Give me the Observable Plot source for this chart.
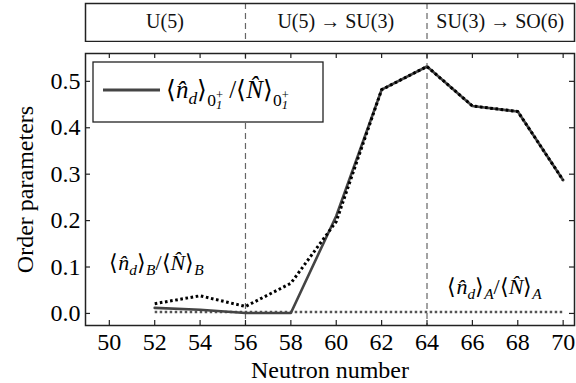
<!DOCTYPE html>
<html><head><meta charset="utf-8">
<script src="https://cdn.jsdelivr.net/npm/d3@7"></script>
<script src="https://cdn.jsdelivr.net/npm/@observablehq/plot@0.6"></script>
<style>
html,body{margin:0;padding:0;background:#fff;}
#chart{position:relative;width:576px;height:383px;}
#chart svg{display:block;}
.region{position:absolute;top:9px;width:200px;text-align:center;font-family:'Liberation Serif',serif;font-size:20px;line-height:24px;color:#111;white-space:nowrap;}
</style></head><body><div id="chart"></div>
<script>
// ---- data ----
const neutrons = [52, 54, 56, 58, 60, 62, 64, 66, 68, 70];
const ratioGround = [0.012, 0.008, 0.001, 0.001, 0.21, 0.482, 0.532, 0.447, 0.435, 0.287];
const ratioB = [0.021, 0.038, 0.015, 0.065, 0.198, 0.482, 0.532, 0.447, 0.435, 0.287];
const ratioA = [0.003, 0.003, 0.003, 0.003, 0.003, 0.003, 0.003, 0.003, 0.003, 0.003];
const xTicks = [50, 52, 54, 56, 58, 60, 62, 64, 66, 68, 70];
const yTicks = [0, 0.1, 0.2, 0.3, 0.4, 0.5];
const yTickLabels = ["0.0", "0.1", "0.2", "0.3", "0.4", "0.5"];
const boundaries = [56, 64];
const regionLabels = ["U(5)", "U(5) \u2192 SU(3)", "SU(3) \u2192 SO(6)"];
const annotationKeys = ["B", "A"];
const annotationX = [50, 64.9];
const annotationY = [0.108, 0.056];
const legendKey = "G";
const xLabel = "Neutron number";
const yLabel = "Order parameters";

// ---- rich math text segments ----
const HAT = "\u0302";
const segsFor = {
  B: [{t:"\u27E8"},{t:"n"+HAT,i:1},{t:"d",i:1,s:0.7,sh:0.22},{t:"\u27E9"},{t:"B",i:1,s:0.7,sh:0.22},{t:"/\u27E8"},{t:"N"+HAT,i:1},{t:"\u27E9"},{t:"B",i:1,s:0.7,sh:0.22}],
  A: [{t:"\u27E8"},{t:"n"+HAT,i:1},{t:"d",i:1,s:0.7,sh:0.22},{t:"\u27E9"},{t:"A",i:1,s:0.7,sh:0.22},{t:"/\u27E8"},{t:"N"+HAT,i:1},{t:"\u27E9"},{t:"A",i:1,s:0.7,sh:0.22}],
  G: [{t:"\u27E8"},{t:"n"+HAT,i:1},{t:"d",i:1,s:0.7,sh:0.22},{t:"\u27E9"},{t:"0",s:0.7,sh:0.32},{t:"1",i:1,s:0.5,sh:0.45},{t:"+",s:0.5,sh:0.05,dx:-0.25},
      {t:" /\u27E8"},{t:"N"+HAT,i:1},{t:"\u27E9"},{t:"0",s:0.7,sh:0.32},{t:"1",i:1,s:0.5,sh:0.45},{t:"+",s:0.5,sh:0.05,dx:-0.25}]
};
const FONT = "Liberation Serif";
function richText(el, segs, base) {
  while (el.firstChild) el.removeChild(el.firstChild);
  let cur = 0;
  for (const s of segs) {
    const ts = document.createElementNS("http://www.w3.org/2000/svg", "tspan");
    const shift = (s.sh || 0) * base;
    ts.setAttribute("dy", (shift - cur).toFixed(2));
    cur = shift;
    if (s.dx) ts.setAttribute("dx", (s.dx * base).toFixed(2));
    if (s.i) ts.setAttribute("font-style", "italic");
    ts.setAttribute("font-size", ((s.s || 1) * base).toFixed(1));
    ts.textContent = s.t;
    el.appendChild(ts);
  }
}

// ---- layout ----
const W = 576;
const mL = 85, mR = 2;
const xDomain = [48.95, 70.5];
const yDomain = [-0.026, 0.56];
const headerH = 42;
const mainH = 383 - headerH;
const mT = 11, mB = 58;
const plotWpx = W - mL - mR, plotHpx = mainH - mT - mB;
const tickPx = 5;
const tY = tickPx * (yDomain[1] - yDomain[0]) / plotHpx;
const tX = tickPx * (xDomain[1] - xDomain[0]) / plotWpx;

const rows = (ys) => neutrons.map((n, i) => ({n, v: ys[i]}));
const annos = annotationKeys.map((k, i) => ({k, x: annotationX[i], y: annotationY[i]}));
const cuts = [xDomain[0], ...boundaries, xDomain[1]];
const regions = regionLabels.map((label, i) => ({label, x: (cuts[i] + cuts[i + 1]) / 2}));

const header = Plot.plot({
  width: W, height: headerH, marginLeft: mL, marginRight: mR, marginTop: 3, marginBottom: 1,
  style: {fontFamily: FONT, fontSize: "20px"},
  x: {domain: xDomain, axis: null},
  y: {domain: [0, 1], axis: null},
  marks: [
    Plot.ruleX(boundaries, {stroke: "#666", strokeWidth: 1.2, strokeDasharray: "6,4"}),
    Plot.frame({stroke: "#222", strokeWidth: 1.5})
  ]
});

const main = Plot.plot({
  width: W, height: mainH, marginLeft: mL, marginRight: mR, marginTop: mT, marginBottom: mB,
  style: {fontFamily: FONT, fontSize: "24px"},
  x: {domain: xDomain},
  y: {domain: yDomain},
  marks: [
    Plot.ruleX(boundaries, {stroke: "#666", strokeWidth: 1.2, strokeDasharray: "6,4"}),
    Plot.line(rows(ratioA), {x: "n", y: "v", stroke: "#555", strokeWidth: 2.5, strokeDasharray: "2.5,2.5", strokeLinecap: "butt"}),
    Plot.line(rows(ratioGround), {x: "n", y: "v", stroke: "#444", strokeWidth: 2.6}),
    Plot.line(rows(ratioB), {x: "n", y: "v", stroke: "#000", strokeWidth: 3, strokeDasharray: "2.6,2.6", strokeLinecap: "butt"}),
    Plot.text(annos, {x: "x", y: "y", text: "k", textAnchor: "start", lineAnchor: "middle", fontSize: 22, fontFamily: FONT}),
    Plot.ruleX(xTicks, {y1: yDomain[0], y2: yDomain[0] + tY, stroke: "#222", strokeWidth: 1.2}),
    Plot.ruleX(xTicks, {y1: yDomain[1] - tY, y2: yDomain[1], stroke: "#222", strokeWidth: 1.2}),
    Plot.ruleY(yTicks, {x1: xDomain[0], x2: xDomain[0] + tX, stroke: "#222", strokeWidth: 1.2}),
    Plot.ruleY(yTicks, {x1: xDomain[1] - tX, x2: xDomain[1], stroke: "#222", strokeWidth: 1.2}),
    Plot.axisX(xTicks, {tickSize: 0, tickPadding: 7, fontSize: 24, fontFamily: FONT, tickFormat: d => String(d),
      label: xLabel, labelAnchor: "center", labelArrow: "none", labelOffset: 52}),
    Plot.axisY(yTicks, {tickSize: 0, tickPadding: 5, fontSize: 24, fontFamily: FONT, tickFormat: d => yTickLabels[yTicks.indexOf(d)],
      label: yLabel, labelAnchor: "center", labelArrow: "none", labelOffset: 70}),
    Plot.frame({stroke: "#222", strokeWidth: 1.5})
  ]
});

d3.select(main).selectAll('g[aria-label="text"] text').each(function () {
  const k = this.textContent.trim();
  if (segsFor[k]) richText(this, segsFor[k], 22);
});

// legend (inside the frame, top-left)
const lg = d3.select(main).append("g").attr("class", "legend");
lg.append("rect").attr("x", 93).attr("y", 62 - headerH).attr("width", 230).attr("height", 60)
  .attr("fill", "#fff").attr("stroke", "#222").attr("stroke-width", 1.3);
lg.append("line").attr("x1", 103).attr("x2", 160).attr("y1", 90 - headerH).attr("y2", 90 - headerH)
  .attr("stroke", "#444").attr("stroke-width", 3);
const lt = lg.append("text").attr("x", 166).attr("y", 98 - headerH)
  .attr("text-anchor", "start").attr("font-family", FONT);
richText(lt.node(), segsFor[legendKey], 25);

const chart = document.getElementById("chart");
chart.appendChild(header);
chart.appendChild(main);

// region labels of the header band, placed with the header's x scale
const hx = header.scale("x");
for (const r of regions) {
  const d = document.createElement("div");
  d.className = "region";
  d.style.left = (hx.apply(r.x) - 100) + "px";
  d.textContent = r.label;
  chart.appendChild(d);
}
</script></body></html>
